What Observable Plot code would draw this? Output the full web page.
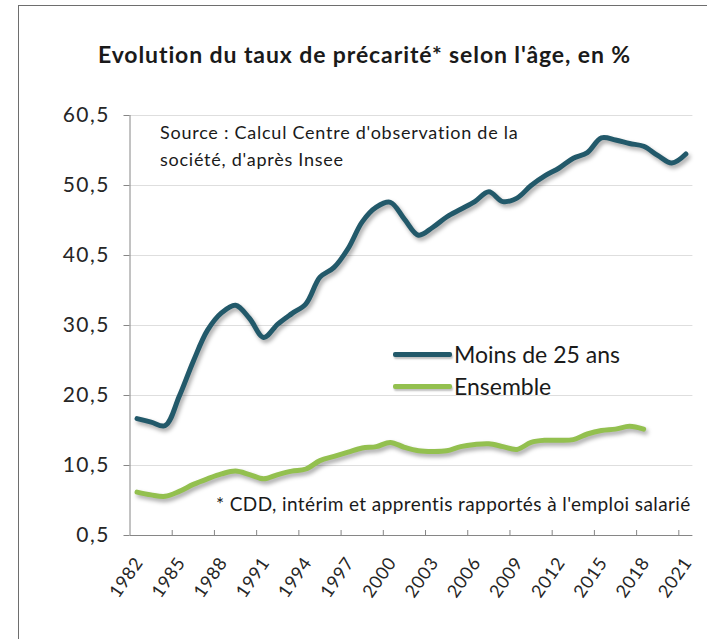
<!DOCTYPE html>
<html>
<head>
<meta charset="utf-8">
<script src="https://cdn.jsdelivr.net/npm/d3@7"></script>
<script src="https://cdn.jsdelivr.net/npm/@observablehq/plot@0.6"></script>
<style>
  body { margin: 0; background: #fff; font-family: Lato, sans-serif; }
  #wrap { position: relative; width: 707px; height: 639px; overflow: hidden; background: #fff; }
  #frame { position: absolute; left: 18px; top: 5px; width: 720px; height: 700px; border-left: 1px solid #6e6e6e; border-top: 1px solid #6e6e6e; box-sizing: border-box; pointer-events: none; }
  #title { position: absolute; left: 0; width: 729px; top: 43px; text-align: center; font: bold 23px/23px Lato, sans-serif; letter-spacing: 0.9px; color: #1a1a1a; white-space: nowrap; }
  #chart { position: absolute; left: 0; top: 100px; }
  .note { position: absolute; font: 18px/18px Lato, sans-serif; letter-spacing: 0.75px; color: #1a1a1a; white-space: nowrap; }
  .leg { position: absolute; display: flex; align-items: center; font: 23px/23px Lato, sans-serif; color: #1a1a1a; white-space: nowrap; }
  .leg span.sw { display: inline-block; width: 59px; height: 5px; border-radius: 2px; margin-right: 2px; box-shadow: 1px 2px 2px rgba(0,0,0,0.25); }
  #chart svg g[aria-label="line"] path { filter: drop-shadow(2px 3px 2px rgba(0,0,0,0.35)); }
  #chart svg g[aria-label="y-axis tick label"] text { letter-spacing: 1.5px; }
  #chart svg g[aria-label="x-axis tick label"] text { letter-spacing: 0.6px; }
</style>
</head>
<body>
<div id="wrap">
  <div id="title">Evolution du taux de précarité* selon l'âge, en %</div>
  <div id="chart"></div>
  <div class="note" style="left:160px; top:123px;">Source : Calcul Centre d'observation de la</div>
  <div class="note" style="left:160px; top:150px;">société, d'après Insee</div>
  <div class="leg" id="leg1" style="left:393px; top:343px;"></div>
  <div class="leg" id="leg2" style="left:393px; top:375px;"></div>
  <div class="note" style="left:216px; top:495px; font-size:19px; letter-spacing:0.4px;">* CDD, intérim et apprentis rapportés à l'emploi salarié</div>
  <div id="frame"></div>
</div>
<script>
// ---- Data ----
const years = [1982,1983,1984,1985,1986,1987,1988,1989,1990,1991,1992,1993,1994,1995,1996,1997,1998,1999,2000,2001,
               2002,2003,2004,2005,2006,2007,2008,2009,2010,2011,2012,2013,2014,2015,2016,2017,2018,2019,2020,2021];
const moins25 = [17.2,16.7,16.2,20.4,25.4,29.8,32.3,33.4,31.5,28.8,30.7,32.2,33.6,37.4,38.8,41.5,45.3,47.4,48.1,45.7,
                 43.4,44.5,46.0,47.1,48.2,49.6,48.2,48.7,50.5,51.9,53.0,54.4,55.2,57.3,57.0,56.5,56.1,54.8,53.7,55.0];
const ensemble = [6.7,6.3,6.1,6.8,7.8,8.6,9.3,9.7,9.2,8.6,9.2,9.7,10.0,11.2,11.8,12.4,13.0,13.2,13.8,13.1,
                  12.6,12.5,12.6,13.2,13.5,13.6,13.2,12.8,13.8,14.1,14.1,14.2,15.0,15.5,15.7,16.1,15.7];
const seriesNames = ["Moins de 25 ans", "Ensemble"];
const seriesColors = ["#22596a", "#93c04f"];
const yTicks = [0.5, 10.5, 20.5, 30.5, 40.5, 50.5, 60.5];
const xLabelYears = [1982,1985,1988,1991,1994,1997,2000,2003,2006,2009,2012,2015,2018,2021];
const xDomain = [1981.5, 2021.5];

// ---- Build tables ----
const rows = [
  ...moins25.map((v, i) => ({year: years[i], value: v, serie: seriesNames[0]})),
  ...ensemble.map((v, i) => ({year: years[i], value: v, serie: seriesNames[1]}))
];
const tickBounds = xLabelYears.slice(0, -1).map(y => y + 2.5); // category boundaries

const fmt = d => d.toFixed(1).replace(".", ",");

const chart = Plot.plot({
  width: 707,
  height: 539,
  marginLeft: 129.5,
  marginRight: 14.6,
  marginTop: 15,
  marginBottom: 104,
  style: {fontFamily: "Lato, sans-serif", background: "transparent", overflow: "visible"},
  x: {domain: xDomain},
  y: {domain: [yTicks[0], yTicks[yTicks.length - 1]]},
  color: {domain: seriesNames, range: seriesColors},
  marks: [
    Plot.gridY(yTicks.slice(1), {stroke: "#dedede", strokeOpacity: 1}),
    Plot.axisY({ticks: yTicks, tickFormat: fmt, tickSize: 6, tickPadding: 14, stroke: "#868686", fill: "#262626", fontSize: 21, label: null}),
    Plot.axisX({ticks: xLabelYears, tickFormat: d => String(d), tickSize: 0, tickPadding: 24, dx: 2, tickRotate: -55, fill: "#262626", fontSize: 18, label: null}),
    Plot.axisX({ticks: tickBounds, tickFormat: () => "", tickSize: -5, stroke: "#868686", label: null}),
    Plot.ruleX([xDomain[0]], {stroke: "#868686"}),
    Plot.ruleY([yTicks[0]], {stroke: "#868686"}),
    Plot.line(rows, {x: "year", y: "value", z: "serie", stroke: "serie", strokeWidth: 5, curve: "catmull-rom", strokeLinecap: "round"})
  ]
});
document.getElementById("chart").appendChild(chart);

// legend (HTML, from series arrays)
seriesNames.forEach((name, i) => {
  const el = document.getElementById("leg" + (i + 1));
  const sw = document.createElement("span");
  sw.className = "sw";
  sw.style.background = seriesColors[i];
  const t = document.createElement("span");
  t.textContent = name;
  el.appendChild(sw);
  el.appendChild(t);
});
</script>
</body>
</html>
